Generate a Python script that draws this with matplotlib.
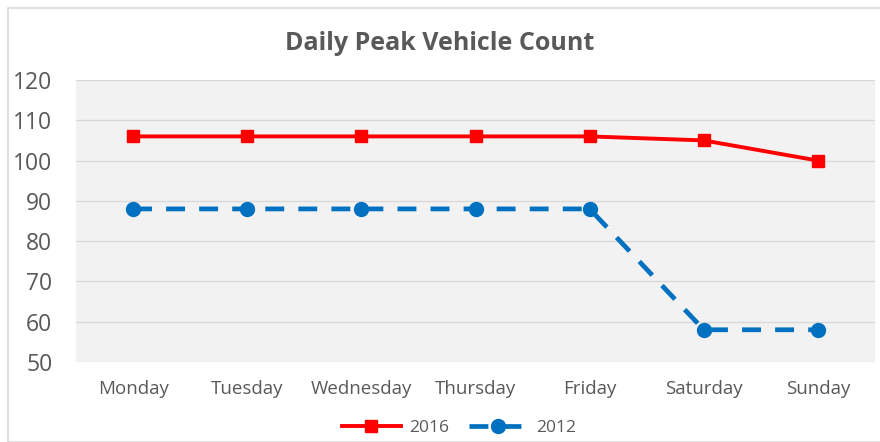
import matplotlib
matplotlib.use("Agg")
import matplotlib.pyplot as plt
from matplotlib.patches import Rectangle

days = ["Monday", "Tuesday", "Wednesday", "Thursday", "Friday", "Saturday", "Sunday"]
peak_2016 = [106, 106, 106, 106, 106, 105, 100]
peak_2012 = [88, 88, 88, 88, 88, 58, 58]
y_ticks = [50, 60, 70, 80, 90, 100, 110, 120]

TEXT = "#595959"
plt.rcParams["font.family"] = ["Open Sans", "DejaVu Sans"]

fig = plt.figure(figsize=(8.8, 4.42), dpi=100)
fig.patches.append(Rectangle((8 / 880, 0), 1, 1 - 8 / 442, transform=fig.transFigure,
                             fill=False, edgecolor="#d9d9d9", linewidth=1.2))

ax = fig.add_axes([76 / 880, 1 - 362 / 442, 799 / 880, 282 / 442])
ax.set_facecolor("#f2f2f2")

x = range(len(days))
ax.plot(x, peak_2016, color="#ff0000", linewidth=2.8, marker="s", markersize=9,
        markeredgecolor="#ff0000", label="2016", zorder=3)
ax.plot(x, peak_2012, color="#0070c0", linewidth=3.4, linestyle=(0, (4, 3)),
        marker="o", markersize=10, label="2012", zorder=3)

ax.set_xlim(-0.5, len(days) - 0.5)
ax.set_ylim(50, 120)
ax.set_yticks(y_ticks)
ax.set_xticks(list(x))
ax.set_xticklabels(days)
ax.grid(axis="y", color="#d9d9d9", linewidth=1)
ax.set_axisbelow(True)
for s in ax.spines.values():
    s.set_visible(False)
ax.tick_params(axis="y", length=0, labelsize=16.5, labelcolor=TEXT, pad=17)
ax.tick_params(axis="x", length=0, labelsize=13.5, labelcolor=TEXT, pad=13)

fig.text(0.5, 1 - 44 / 442, "Daily Peak Vehicle Count", ha="center", va="center",
         fontsize=18, fontweight="bold", color=TEXT)

leg = fig.legend(loc="center", bbox_to_anchor=(459 / 880, 1 - 428 / 442), ncol=2,
                 frameon=False, fontsize=12.5, handlelength=3.4, handletextpad=0.5,
                 columnspacing=1.1)
for t in leg.get_texts():
    t.set_color(TEXT)

fig.savefig("out.png", dpi=100)
